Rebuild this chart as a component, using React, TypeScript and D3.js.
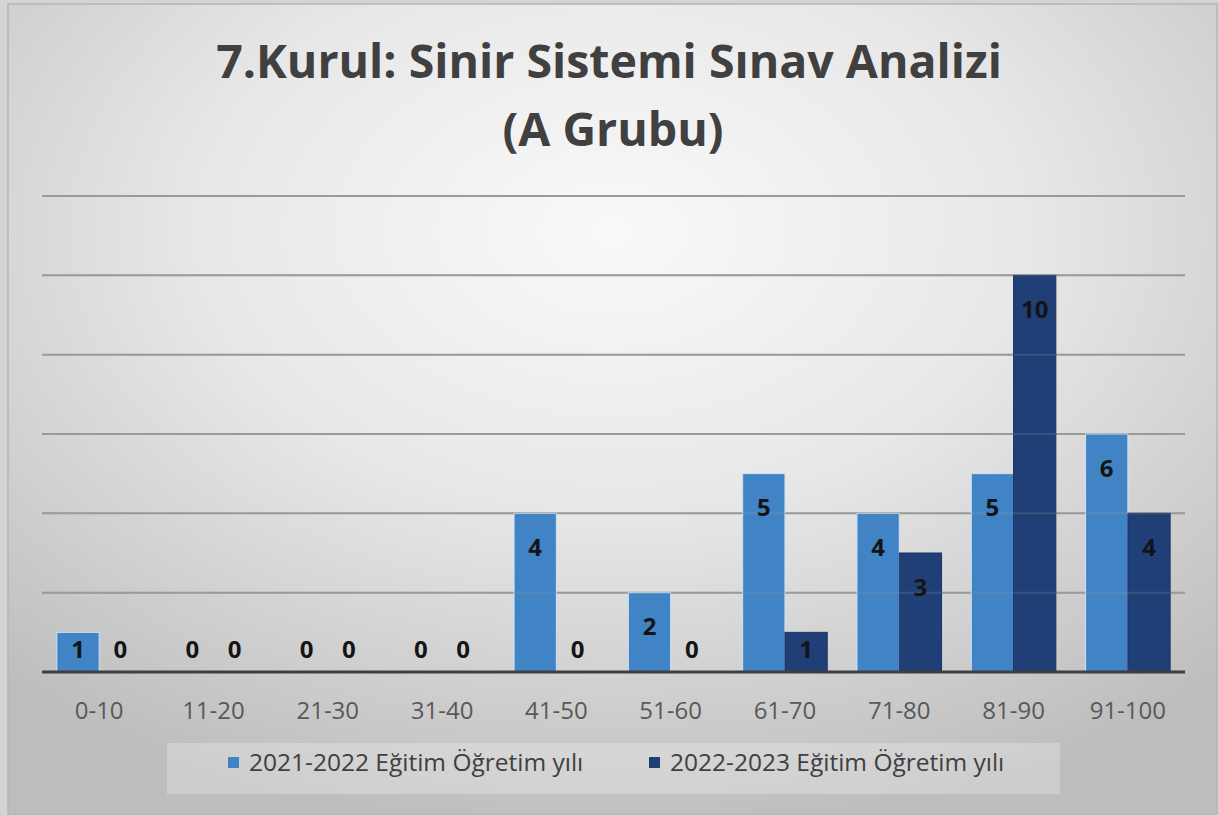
import * as d3 from "d3";

const WIDTH = 1219;
const HEIGHT = 816;

const categories = ["0-10", "11-20", "21-30", "31-40", "41-50", "51-60", "61-70", "71-80", "81-90", "91-100"];
const seriesNames = ["2021-2022 Eğitim Öğretim yılı", "2022-2023 Eğitim Öğretim yılı"];
const values2021 = [1, 0, 0, 0, 4, 2, 5, 4, 5, 6];
const values2022 = [0, 0, 0, 0, 0, 0, 1, 3, 10, 4];
const gridTicks = [2, 4, 6, 8, 10, 12];

const COLORS = ["#4184c6", "#213f77"];
const FONT = "'Open Sans', 'DejaVu Sans', sans-serif";

// plot area
const PLOT = { left: 42, right: 1185, top: 196, bottom: 672 };

const App = () => {
  const series = [values2021, values2022];

  const x0 = d3
    .scaleBand()
    .domain(categories)
    .range([PLOT.left, PLOT.right])
    .paddingInner(0.26)
    .paddingOuter(0.13);

  const x1 = d3
    .scaleBand()
    .domain(seriesNames)
    .range([0, x0.bandwidth()]);

  const y = d3.scaleLinear().domain([0, 12]).range([PLOT.bottom, PLOT.top]);

  const grid = (opacity: number) =>
    gridTicks.map((t) => (
      <line
        key={t}
        x1={PLOT.left}
        x2={PLOT.right}
        y1={y(t)}
        y2={y(t)}
        stroke="#9a9a9a"
        strokeWidth={2}
        opacity={opacity}
      />
    ));

  const bars = series.map((vals, si) => (
    <g key={si}>
      {vals.map((v, i) => {
        if (v === 0) return null;
        const bx = (x0(categories[i]) ?? 0) + (x1(seriesNames[si]) ?? 0);
        return (
          <rect
            key={i}
            x={bx}
            y={y(v)}
            width={x1.bandwidth()}
            height={y(0) - y(v)}
            fill={COLORS[si]}
            stroke={si === 0 ? "#cfe2f6" : "#1b3566"}
            strokeWidth={1}
          />
        );
      })}
    </g>
  ));

  const labels = series.map((vals, si) => (
    <g key={si}>
      {vals.map((v, i) => {
        const cx = (x0(categories[i]) ?? 0) + (x1(seriesNames[si]) ?? 0) + x1.bandwidth() / 2;
        const cy = Math.min(y(v) + 33, y(0) - 24);
        return (
          <text
            key={i}
            x={cx}
            y={cy}
            textAnchor="middle"
            dominantBaseline="central"
            fontFamily={FONT}
            fontWeight={700}
            fontSize={24}
            fill="#141414"
          >
            {v}
          </text>
        );
      })}
    </g>
  ));

  const xLabels = categories.map((c) => (
    <text
      key={c}
      x={(x0(c) ?? 0) + x0.bandwidth() / 2}
      y={719}
      textAnchor="middle"
      fontFamily={FONT}
      fontSize={24}
      fill="#595959"
    >
      {c}
    </text>
  ));

  // legend entries
  const legendX = [228, 649];
  const legend = seriesNames.map((name, si) => (
    <g key={name}>
      <rect x={legendX[si]} y={757} width={11} height={11} fill={COLORS[si]} />
      <text
        x={legendX[si] + 21}
        y={771}
        fontFamily={FONT}
        fontSize={24.5}
        fill="#404040"
      >
        {name}
      </text>
    </g>
  ));

  return (
    <svg
      width={WIDTH}
      height={HEIGHT}
      style={{ position: "absolute", left: 0, top: 0 }}
    >
      <defs>
        <radialGradient id="bg" cx="50%" cy="28%" r="75%">
          <stop offset="0%" stopColor="#f9f9f9" />
          <stop offset="45%" stopColor="#e8e8e8" />
          <stop offset="100%" stopColor="#bdbdbd" />
        </radialGradient>
      </defs>
      <rect x={0} y={0} width={WIDTH} height={HEIGHT} fill="#d4d4d4" />
      <rect x={8} y={4} width={1209} height={810} fill="url(#bg)" stroke="#b5b5b5" strokeWidth={1.5} />

      <text
        x={609}
        y={78}
        textAnchor="middle"
        fontFamily={FONT}
        fontWeight={700}
        fontSize={46.5}
        fill="#404040"
      >
        7.Kurul: Sinir Sistemi Sınav Analizi
      </text>
      <text
        x={613}
        y={146}
        textAnchor="middle"
        fontFamily={FONT}
        fontWeight={700}
        fontSize={46.5}
        fill="#404040"
      >
        (A Grubu)
      </text>

      <g>{grid(1)}</g>
      <g>{bars}</g>
      <g>{grid(0.22)}</g>
      <line x1={PLOT.left} x2={PLOT.right} y1={y(0)} y2={y(0)} stroke="#3f3f3f" strokeWidth={3} />
      <g>{labels}</g>
      <g>{xLabels}</g>

      <rect x={167} y={743} width={893} height={51} fill="#ffffff" opacity={0.25} />
      <g>{legend}</g>
    </svg>
  );
};

export default App;
